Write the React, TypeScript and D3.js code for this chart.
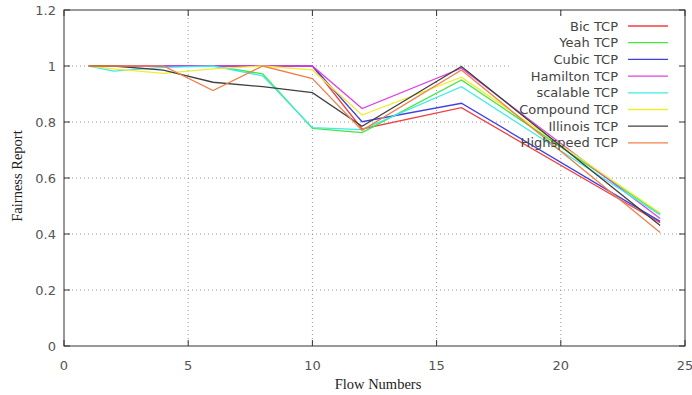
import React from "react";
import * as d3 from "d3";

const flows = [1, 2, 4, 6, 8, 10, 12, 16, 24];
const seriesNames = ["Bic TCP", "Yeah TCP", "Cubic TCP", "Hamilton TCP", "scalable TCP", "Compound TCP", "Illinois TCP", "Highspeed TCP"];
const bic = [1, 1, 1, 1, 1, 1, 0.775, 0.851, 0.44];
const yeah = [1, 1, 1, 1, 0.972, 0.777, 0.762, 0.95, 0.472];
const cubic = [1, 1, 1, 1, 1, 1, 0.801, 0.867, 0.445];
const hamilton = [1, 1, 1, 1, 1, 1, 0.848, 0.992, 0.455];
const scalable = [1, 0.982, 0.995, 1, 0.965, 0.78, 0.773, 0.926, 0.468];
const compound = [1, 0.99, 0.974, 0.99, 1, 0.986, 0.825, 0.96, 0.475];
const illinois = [1, 1, 0.985, 0.942, 0.926, 0.905, 0.785, 0.998, 0.43];
const highspeed = [1, 1, 1, 0.912, 1, 0.955, 0.77, 0.986, 0.405];
const seriesValues = [bic, yeah, cubic, hamilton, scalable, compound, illinois, highspeed];
const colors = ["#f04040", "#40e840", "#4040e0", "#e040e0", "#40eaea", "#eeee30", "#404040", "#f08048"];
const xTicks = [0, 5, 10, 15, 20, 25];
const yTicks = [0, 0.2, 0.4, 0.6, 0.8, 1, 1.2];

export default function App() {
  const W = 692, H = 395;
  const left = 64, right = 685, top = 10, bottom = 346;
  const x = d3.scaleLinear().domain([0, 25]).range([left, right]);
  const y = d3.scaleLinear().domain([0, 1.2]).range([bottom, top]);
  const line = d3.line<number>().x((_, i) => x(flows[i])).y((v) => y(v));
  const tickFont = "DejaVu Sans, Verdana, sans-serif";
  const tl = 6;
  return (
    <svg width={W} height={H} style={{ position: "absolute", left: 0, top: 0, background: "#fff" }}>
      <rect x={0} y={0} width={W} height={H} fill="#fff" />
      {/* grid */}
      {yTicks.filter((t) => t > 0 && t < 1.2).map((t) => (
        <line key={"gy" + t} x1={left} x2={right} y1={y(t)} y2={y(t)} stroke="#999" strokeWidth={1} strokeDasharray="1,3" />
      ))}
      {xTicks.filter((t) => t > 0 && t < 25).map((t) => (
        <line key={"gx" + t} x1={x(t)} x2={x(t)} y1={top} y2={bottom} stroke="#999" strokeWidth={1} strokeDasharray="1,3" />
      ))}
      {/* legend background */}
      <rect x={512} y={16} width={170} height={136} fill="#fff" />
      {/* ticks */}
      {yTicks.map((t) => (
        <g key={"ty" + t}>
          <line x1={left} x2={left + tl} y1={y(t)} y2={y(t)} stroke="#333" />
          <line x1={right} x2={right - tl} y1={y(t)} y2={y(t)} stroke="#333" />
          <text x={left - 8} y={y(t) + 4.5} textAnchor="end" fontFamily={tickFont} fontSize={13} fill="#555">{t}</text>
        </g>
      ))}
      {xTicks.map((t) => (
        <g key={"tx" + t}>
          <line x1={x(t)} x2={x(t)} y1={bottom} y2={bottom - tl} stroke="#333" />
          <line x1={x(t)} x2={x(t)} y1={top} y2={top + tl} stroke="#333" />
          <text x={x(t)} y={bottom + 24} textAnchor="middle" fontFamily={tickFont} fontSize={13} fill="#555">{t}</text>
        </g>
      ))}
      {/* series */}
      {seriesValues.map((vals, i) => (
        <path key={"s" + i} d={line(vals) || ""} fill="none" stroke={colors[i]} strokeWidth={1.3} />
      ))}
      {/* legend */}
      {seriesNames.map((n, i) => {
        const ly = 26 + i * 16.7;
        return (
          <g key={"l" + i}>
            <text x={618} y={ly + 4.5} textAnchor="end" fontFamily={tickFont} fontSize={13} fill="#444">{n}</text>
            <line x1={628} x2={668} y1={ly} y2={ly} stroke={colors[i]} strokeWidth={1.3} />
          </g>
        );
      })}
      {/* border */}
      <rect x={left} y={top} width={right - left} height={bottom - top} fill="none" stroke="#333" strokeWidth={1} />
      {/* titles */}
      <text x={378} y={389} textAnchor="middle" fontFamily="Liberation Serif, Times New Roman, serif" fontSize={14.5} fill="#222">Flow Numbers</text>
      <text transform={`translate(22,176) rotate(-90)`} textAnchor="middle" fontFamily="Liberation Serif, Times New Roman, serif" fontSize={14.5} fill="#222">Fairness Report</text>
    </svg>
  );
}
